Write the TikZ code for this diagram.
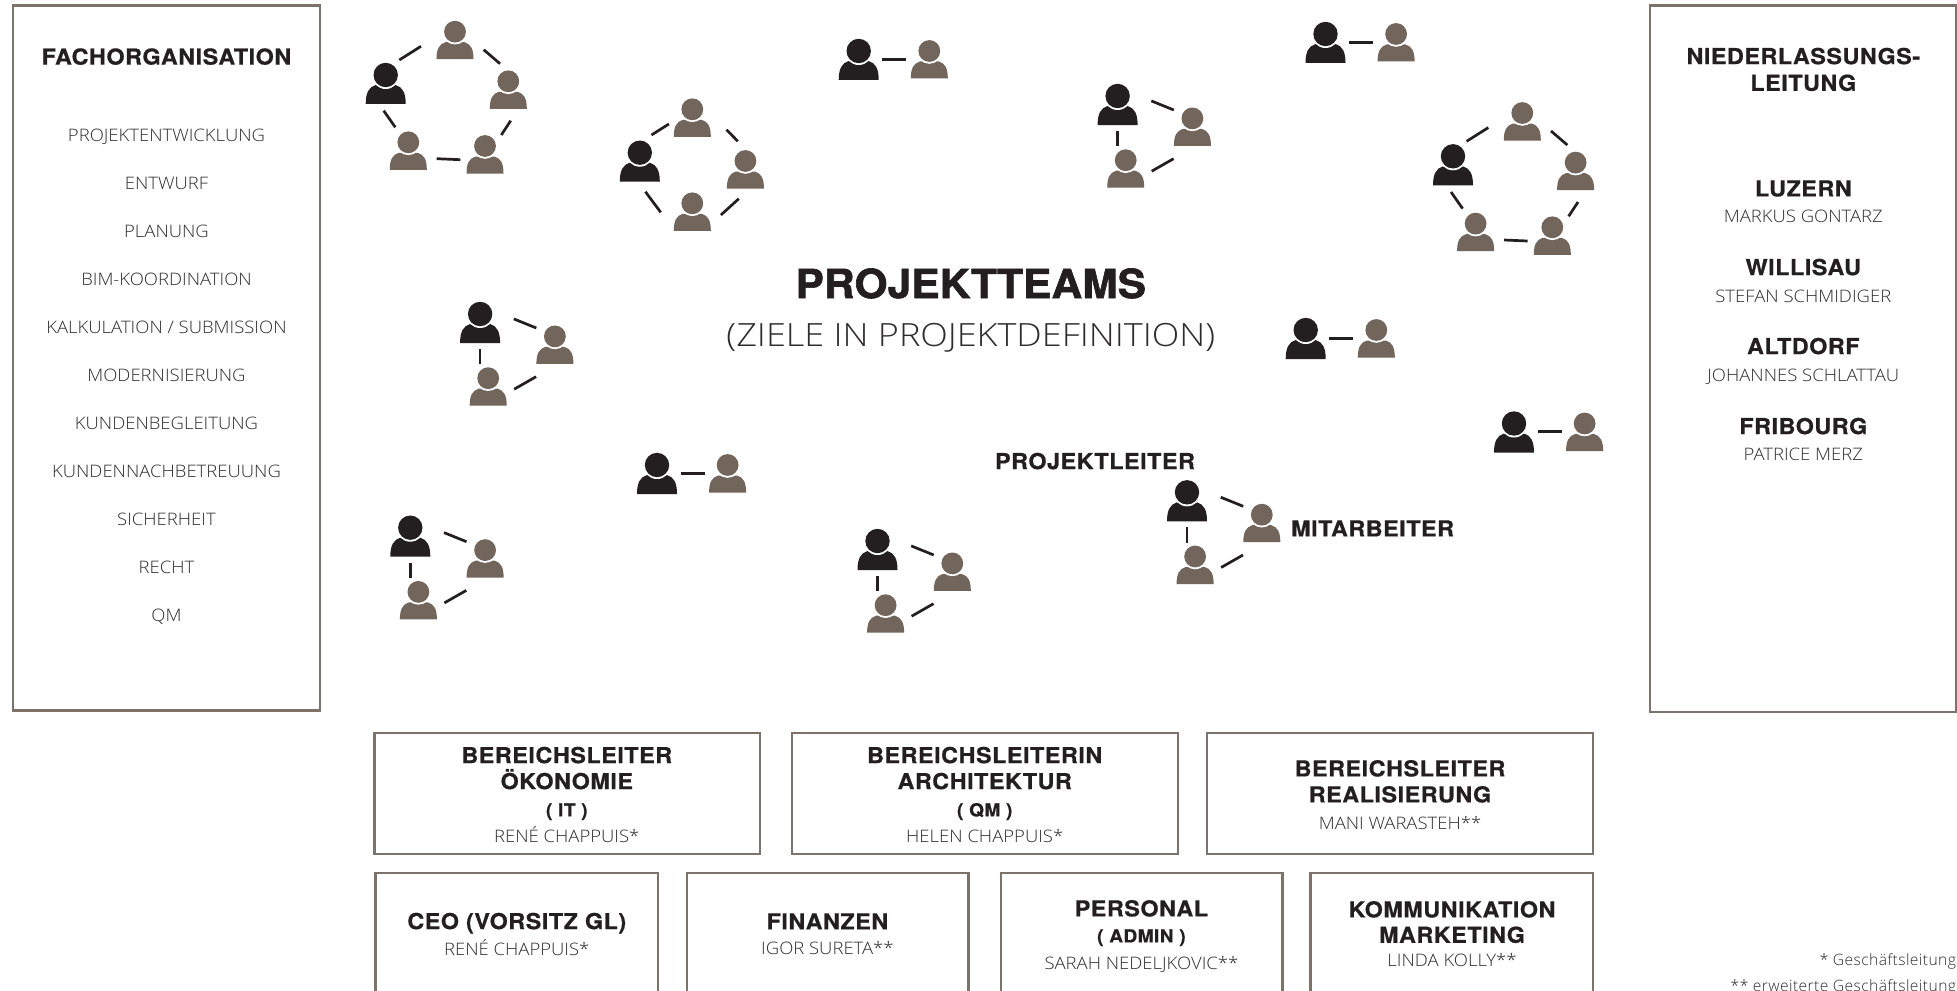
\documentclass[tikz,border=0pt]{standalone}
\usepackage{fontspec}
\usetikzlibrary{calc}
\setmainfont{TeX Gyre Heros}
\newfontfamily\hbf[FakeStretch=1.06,LetterSpace=2.5,FakeBold=0.7]{TeX Gyre Heros}
\newfontfamily\tbf[FakeStretch=1.06,LetterSpace=0.3,FakeBold=1.6]{TeX Gyre Heros}
\newfontfamily\ltf[FakeStretch=1.075]{Open Sans Light}
\newfontfamily\stf[FakeStretch=1.125]{Open Sans Light}
\newfontfamily\nof[LetterSpace=2.8]{Open Sans Light}
\definecolor{ink}{HTML}{231F20}
\definecolor{staffc}{HTML}{72655C}
\definecolor{framec}{HTML}{7D736B}
\definecolor{thin}{HTML}{2E2C2D}
\tikzset{
  leadperson/.pic={
    \fill[ink] (-20,29) .. controls (-20,18) and (-17,12) .. (-10,10) -- (10,10) .. controls (17,12) and (20,18) .. (20,29) -- cycle;
    \fill[white] (0,0) circle [radius=14];
    \fill[ink] (0,0) circle [radius=12.2];
  },
  staffperson/.pic={
    \fill[staffc] (-18.5,27.5) .. controls (-18.5,17.5) and (-16,12.5) .. (-9.5,10.5) -- (9.5,10.5) .. controls (16,12.5) and (18.5,17.5) .. (18.5,27.5) -- cycle;
    \fill[white] (0,0) circle [radius=12.8];
    \fill[staffc] (0,0) circle [radius=10.9];
  },
  teamlink/.style={draw=ink,line width=1.35pt},
  panel/.style={draw=framec,line width=1.15pt,fill=white},
  txt/.style={inner sep=0pt,outer sep=0pt,text depth=0pt,align=center,anchor=center},
  headtext/.style={txt,yshift=-0.1pt,text=ink,text height=7.9pt,font=\hbf\bfseries\fontsize{11}{13}\selectfont},
  subhead/.style={txt,text=ink,text height=6.4pt,font=\hbf\bfseries\fontsize{9}{11}\selectfont},
  nametext/.style={txt,text=thin,text height=6.2pt,font=\ltf\fontsize{8.6}{10}\selectfont},
  titletext/.style={txt,yshift=-0.1pt,text=ink,text height=14.5pt,font=\tbf\bfseries\fontsize{20}{24}\selectfont},
  subtitletext/.style={txt,text=thin,text height=11.6pt,font=\stf\fontsize{16}{20}\selectfont},
  notetext/.style={txt,text=thin,anchor=base east,text height=6pt,font=\nof\fontsize{7.8}{10}\selectfont},
}
\newcommand\pairteam[3]{%
  \coordinate (#1d) at (#2,#3);
  \coordinate (#1a) at ($(#1d)+(70.6,0)$);
  \pic at (#1d) {leadperson};
  \pic at (#1a) {staffperson};
  \draw[teamlink] ($(#1d)+(23.6,8.3)$) -- ($(#1a)+(-23,8.3)$);
}
\newcommand\triteam[3]{%
  \coordinate (#1d) at (#2,#3);
  \coordinate (#1a) at ($(#1d)+(74.8,22.4)$);
  \coordinate (#1b) at ($(#1d)+(8.1,64.2)$);
  \pic at (#1d) {leadperson};
  \pic at (#1a) {staffperson};
  \pic at (#1b) {staffperson};
  \draw[teamlink] ($(#1d)+(33.7,4.9)$) -- ($(#1a)+(-18.6,-8.4)$);
  \draw[teamlink] ($(#1a)+(-18.8,40.3)$) -- ($(#1b)+(26,11)$);
  \draw[teamlink] ($(#1d)+(0,35)$) -- ($(#1b)+(-8.1,-14)$);
}
\newcommand\pentateam[3]{%
  \coordinate (#1d) at (#2,#3);
  \coordinate (#1a) at ($(#1d)+(69.3,-43.3)$);
  \coordinate (#1b) at ($(#1d)+(122.6,6.3)$);
  \coordinate (#1c) at ($(#1d)+(99.3,71)$);
  \coordinate (#1e) at ($(#1d)+(22.6,67.3)$);
  \pic at (#1d) {leadperson};
  \pic at (#1a) {staffperson};
  \pic at (#1b) {staffperson};
  \pic at (#1c) {staffperson};
  \pic at (#1e) {staffperson};
  \draw[teamlink] ($(#1d)+(13.6,-15)$) -- ($(#1a)+(-34,14.6)$);
  \draw[teamlink] ($(#1a)+(28.7,18)$) -- ($(#1b)+(-8.3,-17.6)$);
  \draw[teamlink] ($(#1b)+(2.4,39.4)$) -- ($(#1c)+(16.3,-11)$);
  \draw[teamlink] ($(#1c)+(-24.7,13.7)$) -- ($(#1e)+(28.4,16.4)$);
  \draw[teamlink] ($(#1e)+(-13,-15)$) -- ($(#1d)+(-2,35.7)$);
}
\begin{document}
\begin{tikzpicture}[x=0.5pt,y=-0.5pt]
\useasboundingbox (0,0) rectangle (1957,990);
\clip (0,0) rectangle (1957,990);
\fill[white] (0,0) rectangle (1957,990);

% side panels
\draw[panel] (13,5.5) rectangle (320,710.5);
\draw[panel] (1650,5.5) rectangle (1956,712.3);

% left panel
\node[headtext] (fach) at (166.5,56.5) {FACHORGANISATION};
\node[nametext] (f1) at (166.5,135) {PROJEKTENTWICKLUNG};
\node[nametext] (f2) at (166.5,183) {ENTWURF};
\node[nametext] (f3) at (166.5,231) {PLANUNG};
\node[nametext] (f4) at (166.5,279) {BIM-KOORDINATION};
\node[nametext] (f5) at (166.5,327) {KALKULATION / SUBMISSION};
\node[nametext] (f6) at (166.5,375) {MODERNISIERUNG};
\node[nametext] (f7) at (166.5,423) {KUNDENBEGLEITUNG};
\node[nametext] (f8) at (166.5,471) {KUNDENNACHBETREUUNG};
\node[nametext] (f9) at (166.5,519) {SICHERHEIT};
\node[nametext] (f10) at (166.5,567) {RECHT};
\node[nametext] (f11) at (166.5,615) {QM};

% right panel
\node[headtext] (nl1) at (1803.3,56) {NIEDERLASSUNGS-};
\node[headtext] (nl2) at (1803.3,82.7) {LEITUNG};
\node[headtext] (o1) at (1803.3,188.3) {LUZERN};
\node[nametext] (n1) at (1803.3,216.3) {MARKUS GONTARZ};
\node[headtext] (o2) at (1803.3,267) {WILLISAU};
\node[nametext] (n2) at (1803.3,296) {STEFAN SCHMIDIGER};
\node[headtext] (o3) at (1803.3,346) {ALTDORF};
\node[nametext] (n3) at (1803.3,375.3) {JOHANNES SCHLATTAU};
\node[headtext] (o4) at (1803.3,426) {FRIBOURG};
\node[nametext] (n4) at (1803.3,454) {PATRICE MERZ};

% centre title
\node[titletext] (title) at (970.8,283.3) {PROJEKTTEAMS};
\node[subtitletext] (subtitle) at (970.8,335) {(ZIELE IN PROJEKTDEFINITION)};
\node[headtext] (plabel) at (1095,461) {PROJEKTLEITER};
\node[headtext] (mlabel) at (1372.6,528.3) {MITARBEITER};

% teams
\pentateam{pa}{385.7}{75}
\pentateam{pb}{1453}{156.3}
% four-person team
\coordinate (qd) at (639.8,152.7);
\coordinate (qa) at (692.3,109.3);
\coordinate (qb) at (745.4,161);
\coordinate (qc) at (692.3,203.3);
\pic at (qd) {leadperson};
\pic at (qa) {staffperson};
\pic at (qb) {staffperson};
\pic at (qc) {staffperson};
\draw[teamlink] ($(qd)+(11.7,-17.7)$) -- ($(qa)+(-23.4,14.7)$);
\draw[teamlink] ($(qa)+(34.2,20.4)$) -- ($(qb)+(-7.6,-19.7)$);
\draw[teamlink] ($(qb)+(-6.6,37.7)$) -- ($(qc)+(28.6,11.7)$);
\draw[teamlink] ($(qc)+(-31.6,9)$) -- ($(qd)+(5.6,39)$);

\triteam{ta}{480.1}{314}
\triteam{tb}{1117.6}{96}
\triteam{tc}{410.3}{527.7}
\triteam{te}{877.5}{541}
\triteam{tf}{1187}{492.3}

\pairteam{ra}{858.7}{51}
\pairteam{rb}{1325.5}{34}
\pairteam{rc}{1305.7}{330}
\pairteam{rd}{1514}{423.5}
\pairteam{re}{657}{465}

% bottom row 1
\draw[panel] (374.4,733.3) rectangle (760,854);
\draw[panel] (791.8,733.3) rectangle (1178,854);
\draw[panel] (1206.8,733.3) rectangle (1593,854);
\node[headtext] (b1a) at (566.8,755) {BEREICHSLEITER};
\node[headtext] (b1b) at (566.8,781) {ÖKONOMIE};
\node[subhead] (b1c) at (566.8,810) {( IT )};
\node[nametext] (b1d) at (566.8,836) {RENÉ CHAPPUIS*};
\node[headtext] (b2a) at (984.7,755) {BEREICHSLEITERIN};
\node[headtext] (b2b) at (984.7,781) {ARCHITEKTUR};
\node[subhead] (b2c) at (984.7,810) {( QM )};
\node[nametext] (b2d) at (984.7,836) {HELEN CHAPPUIS*};
\node[headtext] (b3a) at (1400,768.3) {BEREICHSLEITER};
\node[headtext] (b3b) at (1400,794.3) {REALISIERUNG};
\node[nametext] (b3c) at (1400,823.3) {MANI WARASTEH**};

% bottom row 2 (running past the lower edge)
\draw[panel] (375.6,873) rectangle (658,1010);
\draw[panel] (686.7,873) rectangle (968.6,1010);
\draw[panel] (1000.7,873) rectangle (1282.6,1010);
\draw[panel] (1310.6,873) rectangle (1593,1010);
\node[headtext] (c1a) at (516.8,921) {CEO (VORSITZ GL)};
\node[nametext] (c1b) at (516.8,949) {RENÉ CHAPPUIS*};
\node[headtext] (c2a) at (827.4,921.3) {FINANZEN};
\node[nametext] (c2b) at (827.4,948.3) {IGOR SURETA**};
\node[headtext] (c3a) at (1141.4,908.3) {PERSONAL};
\node[subhead] (c3b) at (1141.4,936) {( ADMIN )};
\node[nametext] (c3c) at (1141.4,963.3) {SARAH NEDELJKOVIC**};
\node[headtext] (c4a) at (1452,909.3) {KOMMUNIKATION};
\node[headtext] (c4b) at (1452,934.7) {MARKETING};
\node[nametext] (c4c) at (1452,960) {LINDA KOLLY**};

% footnotes
\node[notetext] (fn1) at (1956,965.5) {* Geschäftsleitung};
\node[notetext] (fn2) at (1956,991.5) {** erweiterte Geschäftsleitung};
\end{tikzpicture}
\end{document}
